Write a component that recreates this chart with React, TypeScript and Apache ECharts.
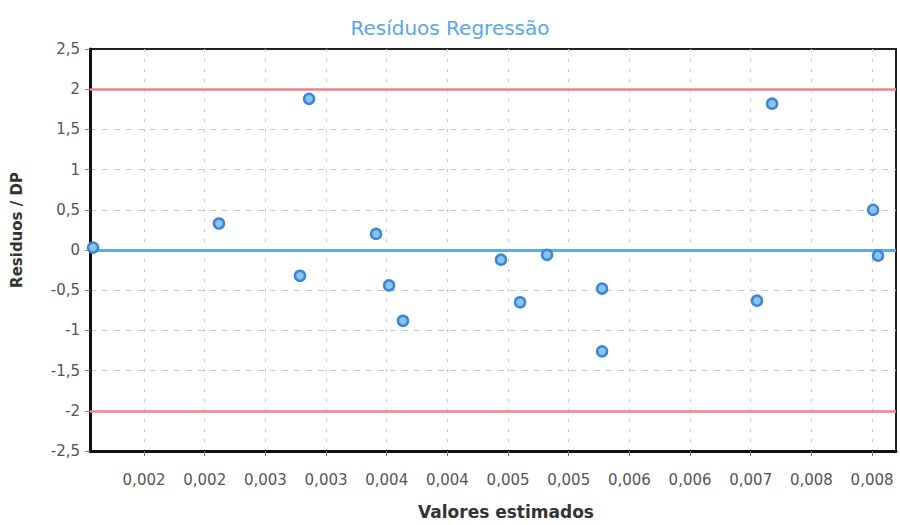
import React, { useEffect, useRef } from "react";
import * as echarts from "echarts";

// Fitted values (x) and standardized residuals (y) of the regression
const fittedValues = [
  0.001166, 0.002287, 0.003089, 0.003685, 0.003008, 0.003801, 0.003925, 0.004797,
  0.005207, 0.004967, 0.005697, 0.005697, 0.007076, 0.00721, 0.008109, 0.008153,
];
const standardizedResiduals = [
  0.03, 0.33, 1.88, 0.2, -0.32, -0.44, -0.88, -0.12,
  -0.06, -0.65, -0.48, -1.26, -0.63, 1.82, 0.5, -0.07,
];

// Control limits and the zero reference
const upperLimit = 2;
const lowerLimit = -2;
const zeroLine = 0;

// X axis: range, tick spacing and printed tick labels (rounded to 3 decimals)
const xRange = [0.001139, 0.008313];
const xTickStep = 0.00054;
const xFirstTick = 0.00162;
const xTickLabels = [
  "0,002", "0,002", "0,003", "0,003", "0,004", "0,004", "0,005",
  "0,005", "0,006", "0,006", "0,007", "0,008", "0,008",
];

// Y axis
const yRange = [-2.5, 2.5];
const yTickStep = 0.5;

const FONT = "'DejaVu Sans', Verdana, sans-serif";

export default function App() {
  const ref = useRef<HTMLDivElement>(null);

  useEffect(() => {
    if (!ref.current) return;
    const chart = echarts.init(ref.current, undefined, { renderer: "svg" });

    const xTickValues = xTickLabels.map((_, i) => xFirstTick + i * xTickStep);
    const xLabel = (v: number) => {
      const idx = Math.round((v - xFirstTick) / xTickStep);
      return idx >= 0 && idx < xTickLabels.length ? xTickLabels[idx] : "";
    };

    chart.setOption({
      animation: false,
      backgroundColor: "#ffffff",
      title: {
        text: "Resíduos Regressão",
        left: "center",
        top: 13,
        textStyle: {
          color: "#5aa7e6",
          fontSize: 20,
          fontWeight: "normal",
          fontFamily: FONT,
        },
      },
      grid: {
        left: 90,
        top: 49,
        width: 806,
        height: 408,
        show: true,
        borderColor: "#222",
        borderWidth: 2,
        containLabel: false,
      },
      xAxis: {
        type: "value",
        min: xRange[0],
        max: xRange[1],
        name: "Valores estimados",
        nameLocation: "middle",
        nameGap: 52,
        nameTextStyle: {
          color: "#333",
          fontSize: 17,
          fontWeight: "bold",
          fontFamily: FONT,
          padding: [0, 0, 0, 26],
        },
        axisLine: { show: true, onZero: false, lineStyle: { color: "#111", width: 3 } },
        axisTick: {
          show: true,
          length: 5,
          customValues: xTickValues,
          lineStyle: { color: "#777" },
        },
        axisLabel: {
          customValues: xTickValues,
          formatter: xLabel,
          color: "#555",
          fontSize: 15,
          fontFamily: FONT,
          margin: 21,
        },
        splitLine: {
          show: true,
          lineStyle: { color: "#c8c8c8", type: [3, 7], width: 1 },
        },
      },
      yAxis: {
        type: "value",
        min: yRange[0],
        max: yRange[1],
        interval: yTickStep,
        name: "Residuos / DP",
        nameLocation: "middle",
        nameGap: 66,
        nameTextStyle: {
          color: "#333",
          fontSize: 15,
          fontWeight: "bold",
          fontFamily: FONT,
          padding: [0, 0, 0, 40],
        },
        axisLine: { show: true, lineStyle: { color: "#111", width: 3 } },
        axisTick: { show: true, length: 5, lineStyle: { color: "#888" } },
        axisLabel: {
          formatter: (v: number) => String(v).replace(".", ","),
          color: "#555",
          fontSize: 15,
          fontFamily: FONT,
          margin: 10,
        },
        splitLine: {
          show: true,
          showMinLine: false,
          showMaxLine: false,
          lineStyle: { color: "#c8c8c8", type: [6, 6], width: 1 },
        },
      },
      series: [
        {
          type: "scatter",
          data: fittedValues.map((x, i) => [x, standardizedResiduals[i]]),
          symbol: "circle",
          symbolSize: 10,
          itemStyle: { color: "#8cc3ef", borderColor: "#3a88d4", borderWidth: 2.5, opacity: 1 },
          z: 5,
          markLine: {
            silent: true,
            symbol: "none",
            label: { show: false },
            z: 3,
            data: [
              { yAxis: upperLimit, lineStyle: { color: "#f0808c", width: 2.5, type: "solid" } },
              { yAxis: lowerLimit, lineStyle: { color: "#f0808c", width: 2.5, type: "solid" } },
              { yAxis: zeroLine, lineStyle: { color: "#5fa9e8", width: 3, type: "solid" } },
            ],
          },
        },
      ],
    });

    return () => chart.dispose();
  }, []);

  return (
    <div
      ref={ref}
      style={{ position: "fixed", left: 0, top: 0, width: 900, height: 525 }}
    />
  );
}
